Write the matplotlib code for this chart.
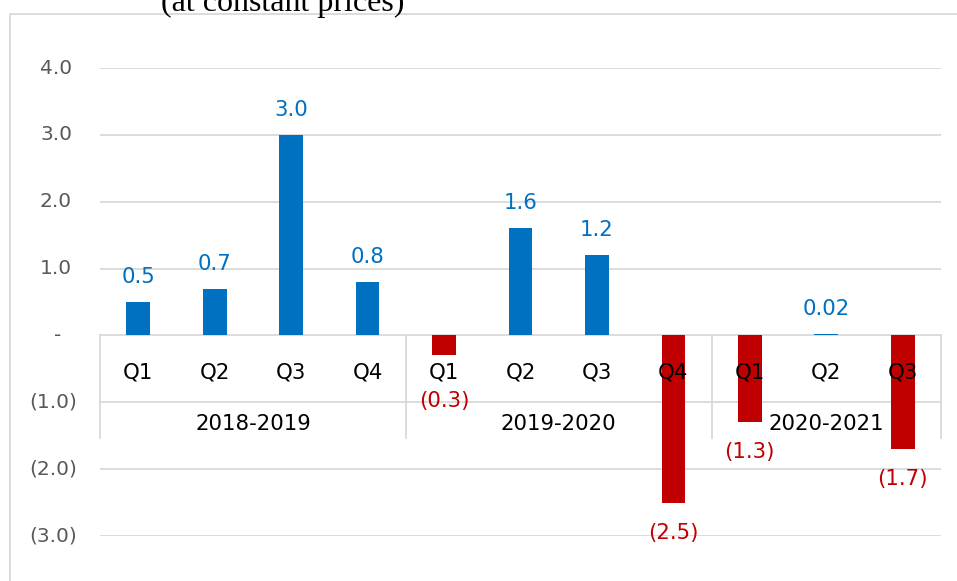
import numpy as np
import matplotlib.pyplot as plt
from matplotlib.transforms import blended_transform_factory
from matplotlib.patches import Rectangle

# --- data ---
quarters = ["Q1", "Q2", "Q3", "Q4", "Q1", "Q2", "Q3", "Q4", "Q1", "Q2", "Q3"]
years = ["2018-2019", "2019-2020", "2020-2021"]
year_sizes = [4, 4, 3]
growth = [0.5, 0.7, 3.0, 0.8, -0.3, 1.6, 1.2, -2.5, -1.3, 0.02, -1.7]
y_ticks = [4, 3, 2, 1, 0, -1, -2, -3]

BLUE = "#0070C0"
RED = "#C00000"
GRID = "#d9d9d9"

fig = plt.figure(figsize=(9.57, 5.81), dpi=100)
ax = fig.add_axes([100 / 957, 45 / 581, 841 / 957, 468 / 581])

x = np.arange(len(growth))
colors = [BLUE if v >= 0 else RED for v in growth]
ax.bar(x, growth, width=0.31, color=colors, zorder=3)
ax.set_xlim(-0.5, len(growth) - 0.5)
ax.set_ylim(min(y_ticks), max(y_ticks))
ax.axis("off")

for t in y_ticks:
    ax.axhline(t, color=GRID, lw=1.3, zorder=1)

# pixels per data unit
ppu = 468 / (max(y_ticks) - min(y_ticks))

# --- y tick labels (accounting style) ---
trans = blended_transform_factory(ax.transAxes, ax.transData)
for t in y_ticks:
    if t > 0:
        txt, dx, ha = f"{t:.1f}", -20.2, "right"
    elif t == 0:
        txt, dx, ha = "-", -30.2, "center"
    else:
        txt, dx, ha = f"({abs(t):.1f})", -16.6, "right"
    ax.annotate(txt, xy=(0, t), xycoords=trans, xytext=(dx, 0),
                textcoords="offset points", ha=ha, va="center",
                fontsize=14.5, color="#595959")

# --- data labels ---
for xi, v in zip(x, growth):
    s = f"{abs(v):.2f}" if abs(v) < 0.1 else f"{abs(v):.1f}"
    if v >= 0:
        ax.text(xi, v + 19 / ppu, s, ha="center", va="baseline",
                fontsize=15.3, color=BLUE, zorder=5)
    else:
        # keep clear of the category labels
        y_lab = min(v - 36 / ppu, -72 / ppu)
        ax.text(xi, y_lab, f"({s})", ha="center", va="baseline",
                fontsize=15.3, color=RED, zorder=5)

# --- multi-level category axis ---
for xi, q in zip(x, quarters):
    ax.text(xi, -43 / ppu, q, ha="center", va="baseline",
            fontsize=15.3, color="black", zorder=6)

start = 0
seps = [-0.5]
for yr, n in zip(years, year_sizes):
    ax.text(start + (n - 1) / 2, -95 / ppu, yr, ha="center", va="baseline",
            fontsize=15.3, color="black", zorder=6)
    start += n
    seps.append(start - 0.5)

for s in seps:
    ax.plot([s, s], [0, -103 / ppu], color=GRID, lw=1.3, zorder=2,
            clip_on=False)

# --- chart frame and cut-off title ---
fig.add_artist(Rectangle((10 / 957, -0.2), 1.2, 1.2 - 14 / 581,
                         transform=fig.transFigure, fill=False,
                         edgecolor=GRID, lw=1.3))
fig.text(283 / 957, 1 - 11 / 581, "(at constant prices)", ha="center",
         va="baseline", fontsize=23, family="Liberation Serif")

fig.savefig("out.png", dpi=100)
